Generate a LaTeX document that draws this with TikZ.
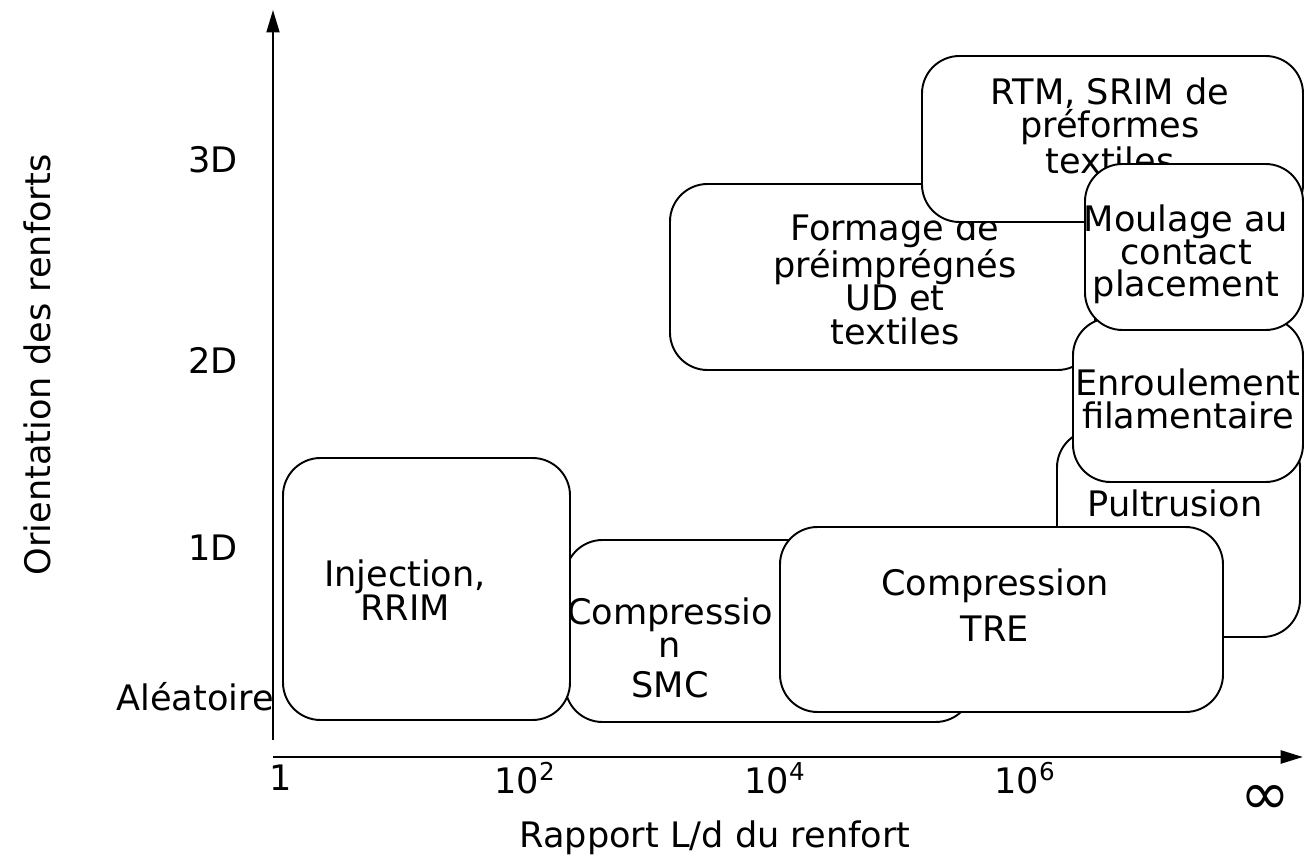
\documentclass[tikz,border=0pt]{standalone}
\usepackage{fontspec}
\setmainfont{DejaVu Sans}
\usepackage{tikz}
\usetikzlibrary{arrows.meta}
\tikzstyle{box} = [draw=black, line width=1.1pt, fill=white, rounded corners=0.75cm]
\tikzstyle{txt} = [align=center, inner sep=0pt, font=\fontsize{20}{19}\selectfont]
\tikzstyle{tick} = [inner sep=0pt, font=\fontsize{20}{20}\selectfont]
\tikzstyle{axis} = [line width=1.6pt, -{Triangle[length=4.5mm, width=2.6mm]}]

\begin{document}
\begin{tikzpicture}[x=0.02cm, y=-0.02cm]
\useasboundingbox (0,0) rectangle (1306,864);
% axes
\coordinate (origin) at (273,757);
\coordinate (ytop) at (273,10);
\coordinate (xend) at (1303,757);
\draw[axis, line width=1.1pt] (273,740) -- (ytop);
\draw[axis] (origin) -- (xend);

% zones, back to front
\draw[box] (670,184) rectangle (1095,370);
\node (formage) [txt] at (895,279) {Formage de\\préimprégnés\\UD et\\textiles};
\draw[box] (922,56) rectangle (1303,222);
\node (rtm) [txt] at (1110,126) {RTM, SRIM de\\préformes\\textiles};
\draw[box] (1057,430) rectangle (1300,637);
\node (pultru) [txt] at (1175,503) {Pultrusion};
\draw[box] (1073,318) rectangle (1303,482);
\node (enroul) [txt] at (1188,399) {Enroulement\\filamentaire};
\draw[box] (1085,164) rectangle (1303,330);
\node (moulage) [txt, font=\fontsize{20}{18}\selectfont] at (1186,254) {Moulage au\\contact\\placement};
\draw[box] (565,540) rectangle (973,722);
\node (smc) [txt] at (670,648) {Compressio\\n\\[4pt]SMC};
\draw[box] (283,458) rectangle (570,720);
\node (inject) [txt] at (405,590) {Injection,\\RRIM};
\draw[box] (780,527) rectangle (1223,712);
\node (tre) [txt] at (995,605) {Compression\\[7pt]TRE};

% orientation labels
\node (d3) [tick] at (213,160) {3D};
\node (d2) [tick] at (213,360) {2D};
\node (d1) [tick] at (213,548) {1D};
\node (alea) [tick] at (195,697) {Aléatoire};
\node (ylab) [tick, rotate=90] at (37,365) {Orientation des renforts};

% L/d labels
\node (t0) [tick] at (281,778) {1};
\node (t2) [tick] at (525,778) {10\textsuperscript{2}};
\node (t4) [tick] at (775,778) {10\textsuperscript{4}};
\node (t6) [tick] at (1025,778) {10\textsuperscript{6}};
\node (tinf) [tick, font=\fontsize{34}{34}\selectfont] at (1265,800) {∞};
\node (xlab) [tick] at (715,838) {Rapport L/d du renfort};
\end{tikzpicture}
\end{document}
